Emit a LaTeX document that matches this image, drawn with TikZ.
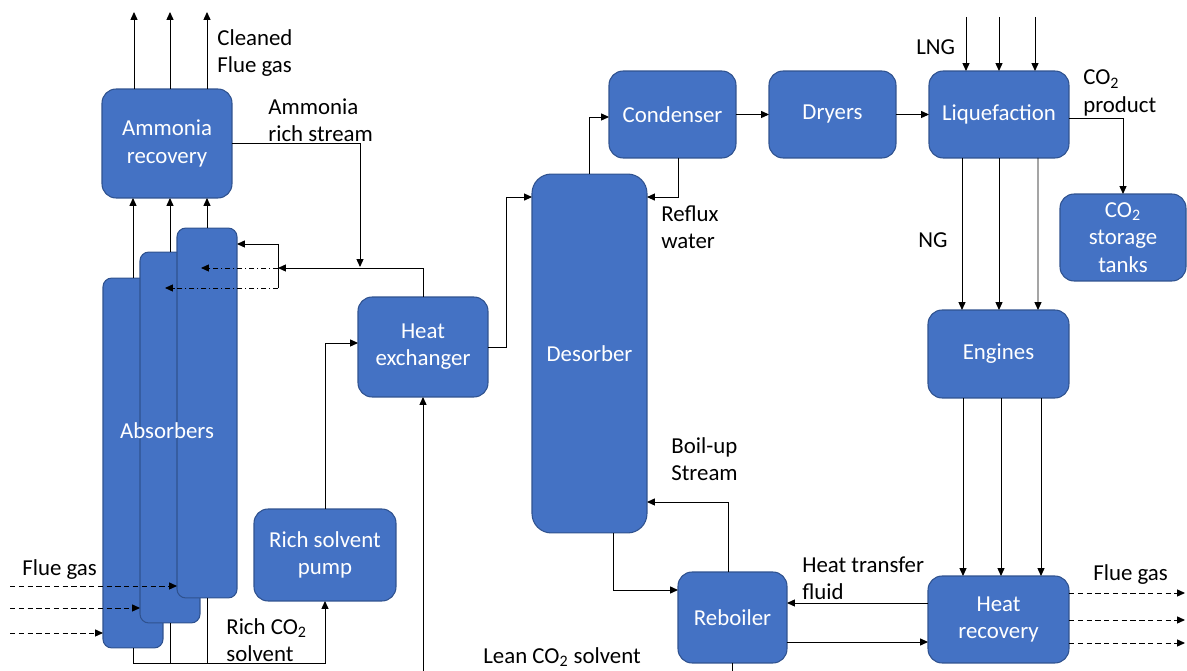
\documentclass[tikz,border=0pt]{standalone}
\usepackage{fontspec}
\setmainfont{Carlito}
\usetikzlibrary{arrows.meta,calc}
\definecolor{boxblue}{HTML}{4472C4}
\definecolor{boxedge}{HTML}{2F528F}
\begin{document}
\begin{tikzpicture}[x=0.02cm,y=-0.02cm,
 box/.style={draw=boxedge, fill=boxblue, line width=0.6pt, rounded corners=8pt, text=white, align=center, inner sep=0pt, outer sep=0pt, font=\fontsize{13}{15.5}\selectfont},
 lbl/.style={align=left, font=\fontsize{13}{15.5}\selectfont, inner sep=0pt, anchor=west},
 ln/.style={line width=0.55pt},
 arr/.style={ln, -{Triangle[length=4.5pt,width=4pt]}},
 dsh/.style={arr, dash pattern=on 3pt off 2pt},
 dd/.style={arr, dash pattern=on 3pt off 1.5pt on 0.8pt off 1.5pt}]
\useasboundingbox (0,0) rectangle (1187,671);

% boxes
\node[box, minimum width=2.6cm, minimum height=2.18cm] (amm) at (167,143.5) {Ammonia\\recovery};
\node[box, rounded corners=5pt, minimum width=1.2cm, minimum height=7.4cm] (abs1) at (133,463) {};
\node[box, rounded corners=5pt, minimum width=1.2cm, minimum height=7.42cm] (abs2) at (170,437.5) {};
\node[box, rounded corners=5pt, minimum width=1.2cm, minimum height=7.4cm] (abs3) at (207,413) {};
\node[text=white, font=\fontsize{13}{15.5}\selectfont, inner sep=0pt] (abstxt) at (167,431) {Absorbers};
\node[box, minimum width=2.84cm, minimum height=1.84cm] (pump) at (325,555) {Rich solvent\\pump};
\node[box, minimum width=2.6cm, minimum height=2.0cm] (hx) at (423,347) {Heat\\exchanger};
\node[box, rounded corners=11pt, minimum width=2.3cm, minimum height=7.18cm] (des) at (589.5,353.5) {Desorber};
\node[box, minimum width=2.54cm, minimum height=1.74cm] (cond) at (672.5,114.5) {Condenser};
\node[box, minimum width=2.54cm, minimum height=1.74cm] (dry) at (832.5,114.5) {Dryers};
\node[box, minimum width=2.8cm, minimum height=1.74cm] (liq) at (999,114.5) {Liquefaction};
\node[box, minimum width=2.52cm, minimum height=1.74cm] (tank) at (1123,237.5) {CO\textsubscript{2}\\storage\\tanks};
\node[box, minimum width=2.82cm, minimum height=1.76cm] (eng) at (998.5,354) {Engines};
\node[box, minimum width=2.82cm, minimum height=1.74cm] (hr) at (998.5,619.5) {Heat\\recovery};
\node[box, minimum width=2.18cm, minimum height=1.82cm] (reb) at (732.5,617.5) {Reboiler};

% labels
\node[lbl] (l_clean) at (217,53) {Cleaned\\Flue gas};
\node[lbl] (l_amm) at (268,120) {Ammonia\\rich stream};
\node[lbl] (l_flue1) at (22,570) {Flue gas};
\node[lbl] (l_rich) at (226,640) {Rich CO\textsubscript{2}\\solvent};
\node[lbl] (l_lean) at (483,657) {Lean CO\textsubscript{2} solvent};
\node[lbl] (l_reflux) at (661,227) {Reflux\\water};
\node[lbl] (l_boil) at (671,459) {Boil-up\\Stream};
\node[lbl] (l_htf) at (802,578) {Heat transfer\\fluid};
\node[lbl] (l_lng) at (916,47) {LNG};
\node[lbl] (l_co2p) at (1083,93) {CO\textsubscript{2}\\product};
\node[lbl] (l_ng) at (918,240) {NG};
\node[lbl] (l_flue2) at (1093,575) {Flue gas};

% free ends
\coordinate (t1) at (134,12);
\coordinate (t2) at (170,12);
\coordinate (t3) at (207,12);
\coordinate (j1) at (360,267);
\coordinate (vt) at (278,244);
\coordinate (vm) at (278,268);
\coordinate (vb) at (278,288);
\coordinate (r1) at (201,268);
\coordinate (r2) at (165,288);
\coordinate (f1) at (10,586);
\coordinate (f2) at (10,608);
\coordinate (f3) at (10,633);
\coordinate (bj) at (325,663);
\coordinate (lb) at (423,671);
\coordinate (n1) at (966,17);
\coordinate (n2) at (999,17);
\coordinate (n3) at (1035,17);
\coordinate (o1) at (1185,593);
\coordinate (o2) at (1185,620);
\coordinate (o3) at (1185,643);

% ammonia recovery
\draw[arr] (amm.north -| t1) -- (t1);
\draw[arr] (amm.north -| t2) -- (t2);
\draw[arr] (amm.north -| t3) -- (t3);
\draw[arr] (abs1.north) -- (abs1.north |- amm.south);
\draw[arr] (abs2.north) -- (abs2.north |- amm.south);
\draw[arr] (abs3.north) -- (abs3.north |- amm.south);
\draw[arr] (amm.east) -| (j1);
\draw[arr] (hx.north) |- (vm);
\draw[ln] (vt) -- (vb);
\draw[arr] (vt) -- (vt -| abs3.east);
\draw[dd] (vm) -- (r1);
\draw[dd] (vb) -- (r2);

% flue gas in
\draw[dsh] (f1) -- (f1 -| abs3.west);
\draw[dsh] (f2) -- (f2 -| abs2.west);
\draw[dsh] (f3) -- (f3 -| abs1.west);

% rich solvent
\draw[ln] (abs1.south) -- (abs1.south |- bj);
\draw[ln] (abs2.south) -- (abs2.south |- bj);
\draw[ln] (abs3.south) -- (abs3.south |- bj);
\draw[arr] (abs1.south |- bj) -| (pump.south);
\draw[arr] (pump.north) |- ($(hx.west)+(0,-4)$);
\draw[arr] (lb) -- (hx.south);
\draw[ln] (reb.south) -- (reb.south |- lb);

% desorber
\draw[arr] (hx.east) -- ++(18,0) |- ($(des.north west)+(0,23)$);
\draw[arr] (des.north) |- ($(cond.west)+(0,2.5)$);
\draw[arr] ($(cond.south)+(5.5,0)$) |- ($(des.north east)+(0,23)$);
\draw[arr] (cond) -- (dry);
\draw[arr] (dry) -- (liq);
\draw[arr] ($(des.south)+(23.5,0)$) |- (reb.west |- 0,590);
\draw[arr] ($(reb.north)+(-4.5,0)$) |- (des.east |- 0,502);

% LNG side
\draw[arr] (n1) -- (n1 |- liq.north);
\draw[arr] (n2) -- (n2 |- liq.north);
\draw[arr] (n3) -- (n3 |- liq.north);
\draw[arr] ($(liq.east)+(0,3.5)$) -| (tank.north);
\draw[arr] ($(liq.south)+(-37,0)$) -- ($(eng.north)+(-36.5,0)$);
\draw[arr] (liq.south) -- (liq.south |- eng.north);
\draw[arr] ($(liq.south)+(39,0)$) -- ($(eng.north)+(39.5,0)$);
\draw[arr] ($(eng.south)+(-35.5,0)$) -- ($(hr.north)+(-35.5,0)$);
\draw[arr] ($(eng.south)+(2.5,0)$) -- ($(hr.north)+(2.5,0)$);
\draw[arr] ($(eng.south)+(42.5,0)$) -- ($(hr.north)+(42.5,0)$);

% heat recovery
\draw[arr] (hr.west |- 0,603) -- (reb.east |- 0,603);
\draw[arr] (reb.east |- 0,642) -- (hr.west |- 0,642);
\draw[dsh] (hr.east |- o1) -- (o1);
\draw[dsh] (hr.east |- o2) -- (o2);
\draw[dsh] (hr.east |- o3) -- (o3);
\end{tikzpicture}
\end{document}
